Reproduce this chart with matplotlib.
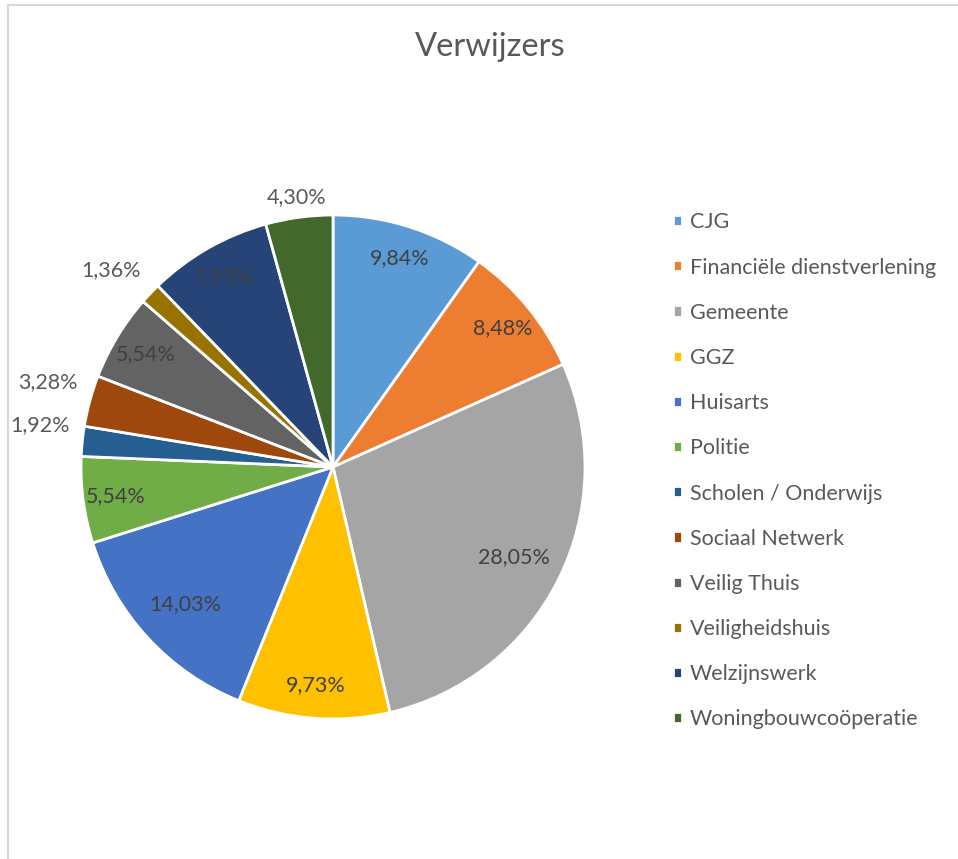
import numpy as np
import matplotlib
matplotlib.use('Agg')
import matplotlib.pyplot as plt
from matplotlib.lines import Line2D

plt.rcParams['font.family'] = ['Lato', 'DejaVu Sans']

labels = ['CJG', 'Financiële dienstverlening', 'Gemeente', 'GGZ', 'Huisarts',
          'Politie', 'Scholen / Onderwijs', 'Sociaal Netwerk', 'Veilig Thuis',
          'Veiligheidshuis', 'Welzijnswerk', 'Woningbouwcoöperatie']
percentages = [9.84, 8.48, 28.05, 9.73, 14.03, 5.54, 1.92, 3.28, 5.54, 1.36, 7.93, 4.30]
colors = ['#5B9BD5', '#ED7D31', '#A5A5A5', '#FFC000', '#4472C4', '#70AD47',
          '#255E91', '#9E480E', '#636363', '#997300', '#264478', '#43682B']

W, H = 958, 859
fig = plt.figure(figsize=(W / 100, H / 100), dpi=100)

# light chart border (top and left visible)
fig.add_artist(Line2D([8 / W, 8 / W], [0, 1 - 5 / H], color='#d9d9d9', lw=1.5))
fig.add_artist(Line2D([8 / W, 1], [1 - 5 / H, 1 - 5 / H], color='#d9d9d9', lw=1.5))

cx, cy, r = 333, 467, 252
ax = fig.add_axes([(cx - r) / W, (H - cy - r) / H, 2 * r / W, 2 * r / H])

wedges, _ = ax.pie(percentages, colors=colors, startangle=90, counterclock=False,
                   radius=1, wedgeprops=dict(edgecolor='white', linewidth=2))
ax.set_xlim(-1, 1)
ax.set_ylim(-1, 1)
ax.axis('off')

for w, p in zip(wedges, percentages):
    ang = np.deg2rad((w.theta1 + w.theta2) / 2)
    txt = ('%.2f%%' % p).replace('.', ',')
    if p < 4.5:
        if np.cos(ang) < -0.3:
            d = 1.05
            ax.text(d * np.cos(ang), d * np.sin(ang) + 0.06, txt, ha='right', va='center',
                    fontsize=15.5, color='#595959', clip_on=False)
        else:
            d = 1.08
            ax.text(d * np.cos(ang), d * np.sin(ang), txt, ha='center', va='center',
                    fontsize=15.5, color='#595959', clip_on=False)
    else:
        d = 0.8 if p > 12 else 0.87
        ax.text(d * np.cos(ang), d * np.sin(ang), txt, ha='center', va='center',
                fontsize=15.5, color='#404040')

fig.text(490 / W, 1 - 47 / H, 'Verwijzers', ha='center', va='center',
         fontsize=23.5, color='#595959')

fig.legend(wedges, labels, loc='upper left', bbox_to_anchor=(654 / W, 1 - 193 / H),
           frameon=False, fontsize=15.5, labelcolor='#595959', handlelength=0.42,
           handleheight=0.42, handletextpad=0.35, labelspacing=1.17)

fig.savefig('out.png', dpi=100)
